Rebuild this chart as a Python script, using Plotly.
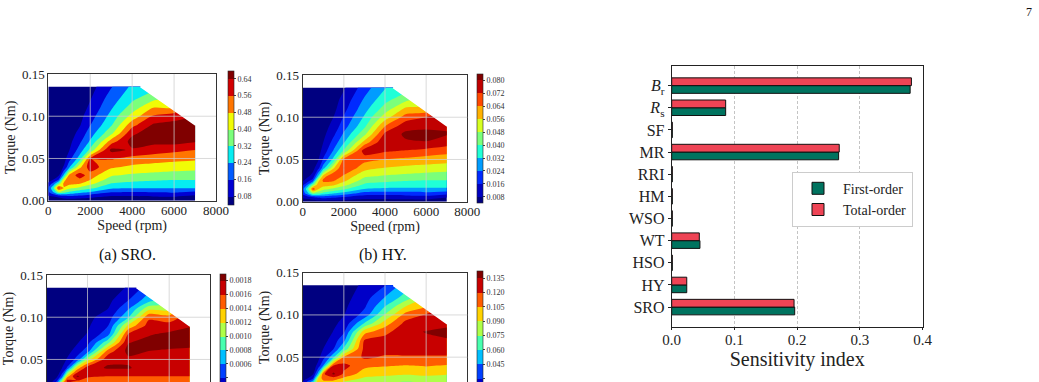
import plotly.graph_objects as go

W, H = 1039, 382


def fx(px):
    return px / W


def fy(py):
    return 1 - py / H


SERIF = "Liberation Serif, Times New Roman, serif"

# ---------------- contour data (speed in rpm, torque in Nm) ----------------
speed = [0, 250, 500, 750, 1000, 1500, 2000, 3000, 4000, 5000, 6000, 7000]
torque = [0, 0.005, 0.01, 0.015, 0.02, 0.025, 0.03, 0.04, 0.05, 0.06, 0.07,
          0.08, 0.09, 0.10, 0.11, 0.12, 0.135]

# torque-speed envelope (region above it is blank)
env_speed = [0, 4400, 7000]
env_torque = [0.135, 0.135, 0.09]

speed_ticks = [0, 2000, 4000, 6000, 8000]
torque_ticks = [0, 0.05, 0.10, 0.15]

# (a) SRO sensitivity map, rows follow `torque`, columns follow `speed`
sro_map = [
    [0.016, 0.016, 0.024, 0.024, 0.024, 0.024, 0.024, 0.024, 0.024, 0.024, 0.024, 0.024],
    [0.064, 0.080, 0.096, 0.128, 0.144, 0.128, 0.104, 0.072, 0.072, 0.080, 0.084, 0.056],
    [0.144, 0.240, 0.376, 0.344, 0.304, 0.264, 0.232, 0.162, 0.156, 0.160, 0.168, 0.144],
    [0.160, 0.320, 0.584, 0.472, 0.420, 0.380, 0.340, 0.254, 0.244, 0.244, 0.244, 0.244],
    [0.096, 0.200, 0.360, 0.504, 0.500, 0.480, 0.420, 0.314, 0.296, 0.288, 0.284, 0.284],
    [0.048, 0.080, 0.160, 0.440, 0.552, 0.544, 0.484, 0.362, 0.344, 0.332, 0.324, 0.324],
    [0.024, 0.048, 0.072, 0.264, 0.504, 0.600, 0.520, 0.409, 0.386, 0.376, 0.364, 0.360],
    [0.016, 0.024, 0.040, 0.088, 0.224, 0.456, 0.608, 0.494, 0.464, 0.448, 0.440, 0.428],
    [0.016, 0.016, 0.024, 0.048, 0.128, 0.280, 0.560, 0.570, 0.534, 0.520, 0.504, 0.496],
    [0.016, 0.016, 0.016, 0.032, 0.076, 0.196, 0.340, 0.662, 0.630, 0.600, 0.580, 0.560],
    [0.016, 0.016, 0.016, 0.024, 0.056, 0.144, 0.252, 0.520, 0.672, 0.664, 0.672, 0.648],
    [0.016, 0.016, 0.016, 0.016, 0.040, 0.104, 0.200, 0.379, 0.622, 0.688, 0.688, 0.680],
    [0.016, 0.016, 0.016, 0.016, 0.032, 0.072, 0.156, 0.308, 0.530, 0.648, 0.664, 0.664],
    [0.016, 0.016, 0.016, 0.016, 0.024, 0.056, 0.124, 0.268, 0.430, 0.568, 0.608, 0.640],
    [0.016, 0.016, 0.016, 0.016, 0.024, 0.040, 0.096, 0.230, 0.357, 0.480, 0.480, 0.600],
    [0.016, 0.016, 0.016, 0.016, 0.016, 0.032, 0.076, 0.200, 0.306, 0.384, 0.440, 0.560],
    [0.016, 0.016, 0.016, 0.016, 0.016, 0.024, 0.048, 0.154, 0.256, 0.288, 0.400, 0.520],
]

# (b) HY sensitivity map
hy_map = [
    [0.0023, 0.0023, 0.0035, 0.0035, 0.0035, 0.0035, 0.0035, 0.0035, 0.0035, 0.0035, 0.0035, 0.0035],
    [0.0093, 0.0116, 0.0134, 0.0171, 0.0190, 0.0171, 0.0144, 0.0104, 0.0104, 0.0116, 0.0121, 0.0081],
    [0.0190, 0.0300, 0.0456, 0.0420, 0.0374, 0.0328, 0.0291, 0.0210, 0.0203, 0.0208, 0.0217, 0.0190],
    [0.0208, 0.0392, 0.0696, 0.0567, 0.0507, 0.0461, 0.0415, 0.0316, 0.0305, 0.0305, 0.0305, 0.0305],
    [0.0134, 0.0254, 0.0438, 0.0604, 0.0599, 0.0576, 0.0507, 0.0385, 0.0364, 0.0355, 0.0351, 0.0351],
    [0.0070, 0.0116, 0.0208, 0.0530, 0.0659, 0.0650, 0.0581, 0.0440, 0.0420, 0.0406, 0.0397, 0.0397],
    [0.0035, 0.0070, 0.0104, 0.0328, 0.0604, 0.0714, 0.0622, 0.0494, 0.0468, 0.0456, 0.0443, 0.0438],
    [0.0023, 0.0035, 0.0058, 0.0125, 0.0282, 0.0548, 0.0723, 0.0592, 0.0558, 0.0539, 0.0530, 0.0516],
    [0.0023, 0.0023, 0.0035, 0.0070, 0.0171, 0.0346, 0.0668, 0.0668, 0.0638, 0.0622, 0.0604, 0.0594],
    [0.0023, 0.0023, 0.0023, 0.0046, 0.0110, 0.0249, 0.0415, 0.0765, 0.0730, 0.0714, 0.0691, 0.0668],
    [0.0023, 0.0023, 0.0023, 0.0035, 0.0081, 0.0190, 0.0314, 0.0594, 0.0797, 0.0788, 0.0797, 0.0760],
    [0.0023, 0.0023, 0.0023, 0.0023, 0.0058, 0.0144, 0.0254, 0.0460, 0.0739, 0.0815, 0.0815, 0.0806],
    [0.0023, 0.0023, 0.0023, 0.0023, 0.0046, 0.0104, 0.0203, 0.0378, 0.0634, 0.0769, 0.0788, 0.0788],
    [0.0023, 0.0023, 0.0023, 0.0023, 0.0035, 0.0081, 0.0167, 0.0332, 0.0519, 0.0677, 0.0723, 0.0760],
    [0.0023, 0.0023, 0.0023, 0.0023, 0.0035, 0.0058, 0.0134, 0.0289, 0.0435, 0.0576, 0.0576, 0.0714],
    [0.0023, 0.0023, 0.0023, 0.0023, 0.0023, 0.0046, 0.0110, 0.0254, 0.0376, 0.0466, 0.0530, 0.0668],
    [0.0023, 0.0023, 0.0023, 0.0023, 0.0023, 0.0035, 0.0070, 0.0201, 0.0318, 0.0355, 0.0484, 0.0622],
]

# (c) third map (lower left)
map_c = [
    [0.00006, 0.00006, 0.00008, 0.0001, 0.0001, 0.0001, 0.0001, 0.0001, 0.0001, 0.0001, 0.0001, 0.0001],
    [0.00024, 0.0004, 0.0005, 0.00056, 0.00056, 0.00056, 0.00056, 0.00056, 0.00056, 0.00056, 0.00056, 0.00056],
    [0.0004, 0.0008, 0.0011, 0.00108, 0.00106, 0.00104, 0.00104, 0.00104, 0.00104, 0.00104, 0.00104, 0.00104],
    [0.0003, 0.0007, 0.0017, 0.0014, 0.00132, 0.0013, 0.00128, 0.00128, 0.00128, 0.00128, 0.00128, 0.00128],
    [0.00012, 0.0003, 0.0007, 0.00144, 0.0015, 0.00144, 0.0014, 0.0014, 0.0014, 0.0014, 0.0014, 0.0014],
    [0.00006, 0.00012, 0.00036, 0.001, 0.00166, 0.0016, 0.0015, 0.0015, 0.0015, 0.0015, 0.0015, 0.0015],
    [0.00006, 0.00006, 0.00016, 0.0005, 0.0013, 0.00184, 0.00164, 0.0016, 0.0016, 0.0016, 0.0016, 0.0016],
    [0.00006, 0.00006, 0.00006, 0.0002, 0.00042, 0.0013, 0.00172, 0.00182, 0.00182, 0.0017, 0.00168, 0.00168],
    [0.00006, 0.00006, 0.00006, 0.0001, 0.00022, 0.00048, 0.0011, 0.00176, 0.00176, 0.00172, 0.00172, 0.00172],
    [0.00006, 0.00006, 0.00006, 0.00006, 0.00012, 0.0003, 0.0005, 0.00148, 0.00186, 0.0018, 0.00178, 0.00176],
    [0.00006, 0.00006, 0.00006, 0.00006, 0.00008, 0.00018, 0.00034, 0.00094, 0.00179, 0.00186, 0.00186, 0.00186],
    [0.00006, 0.00006, 0.00006, 0.00006, 0.00008, 0.00014, 0.00021, 0.00052, 0.00162, 0.00178, 0.00184, 0.00188],
    [0.00006, 0.00006, 0.00006, 0.00006, 0.00008, 0.00012, 0.00017, 0.00039, 0.00125, 0.00168, 0.00168, 0.00178],
    [0.00006, 0.00006, 0.00006, 0.00006, 0.00008, 0.0001, 0.00014, 0.0003, 0.00078, 0.00156, 0.00148, 0.00172],
    [0.00006, 0.00006, 0.00006, 0.00006, 0.00008, 0.00008, 0.00012, 0.0002, 0.00058, 0.00114, 0.00112, 0.00168],
    [0.00006, 0.00006, 0.00006, 0.00006, 0.00008, 0.00008, 0.0001, 0.00014, 0.0004, 0.00072, 0.0009, 0.00164],
    [0.00006, 0.00006, 0.00006, 0.00006, 0.00008, 0.00008, 0.00008, 0.0001, 0.00022, 0.0005, 0.0006, 0.0016],
]

# (d) fourth map (lower right)
map_d = [
    [0.0045, 0.003, 0.0045, 0.0045, 0.0045, 0.0045, 0.0045, 0.0045, 0.0045, 0.0045, 0.0045, 0.0045],
    [0.012, 0.0165, 0.0225, 0.027, 0.027, 0.027, 0.024, 0.0225, 0.0225, 0.0225, 0.0225, 0.0225],
    [0.027, 0.048, 0.072, 0.06, 0.057, 0.0555, 0.051, 0.0465, 0.045, 0.045, 0.045, 0.045],
    [0.03, 0.06, 0.1275, 0.09, 0.0795, 0.078, 0.072, 0.0645, 0.063, 0.0615, 0.0615, 0.0623],
    [0.018, 0.0375, 0.06, 0.102, 0.0975, 0.096, 0.087, 0.0773, 0.075, 0.0735, 0.0743, 0.0743],
    [0.009, 0.015, 0.027, 0.09, 0.1125, 0.114, 0.102, 0.0878, 0.0855, 0.0825, 0.0851, 0.0825],
    [0.0045, 0.009, 0.0135, 0.0525, 0.117, 0.138, 0.117, 0.096, 0.0938, 0.0915, 0.0936, 0.0914],
    [0.0045, 0.0045, 0.0075, 0.0195, 0.045, 0.1215, 0.1245, 0.1095, 0.1065, 0.1046, 0.1062, 0.1038],
    [0.0045, 0.0045, 0.0045, 0.0105, 0.024, 0.057, 0.1065, 0.1223, 0.1185, 0.1185, 0.1185, 0.1185],
    [0.0045, 0.0045, 0.0045, 0.0045, 0.015, 0.0293, 0.063, 0.1245, 0.1245, 0.126, 0.126, 0.126],
    [0.0045, 0.0045, 0.0045, 0.0045, 0.009, 0.0225, 0.0405, 0.1208, 0.126, 0.1305, 0.132, 0.1335],
    [0.0045, 0.0045, 0.0045, 0.0045, 0.0053, 0.0158, 0.0278, 0.099, 0.1155, 0.1305, 0.1358, 0.1395],
    [0.0045, 0.0045, 0.0045, 0.0045, 0.0053, 0.012, 0.0195, 0.0615, 0.0975, 0.1245, 0.1275, 0.1305],
    [0.0045, 0.0045, 0.0045, 0.0045, 0.0053, 0.009, 0.0143, 0.036, 0.0765, 0.111, 0.1215, 0.129],
    [0.0045, 0.0045, 0.0045, 0.0045, 0.0053, 0.0075, 0.012, 0.0278, 0.06, 0.09, 0.105, 0.1275],
    [0.0045, 0.0045, 0.0045, 0.0045, 0.0053, 0.0068, 0.0098, 0.0233, 0.0465, 0.0675, 0.093, 0.126],
    [0.0045, 0.0045, 0.0045, 0.0045, 0.0053, 0.006, 0.0075, 0.018, 0.0293, 0.0525, 0.075, 0.1245],
]

# ---------------- Sobol indices ----------------
params = ["SRO", "HY", "HSO", "WT", "WSO", "HM", "RRI", "MR", "SF",
          "<i>R</i><sub>s</sub>", "<i>B</i><sub>r</sub>"]
first_order = [0.196, 0.024, 0.001, 0.045, 0.001, 0.001, 0.001, 0.266, 0.001, 0.086, 0.380]
total_order = [0.195, 0.024, 0.001, 0.044, 0.001, 0.001, 0.001, 0.267, 0.001, 0.086, 0.382]
sens_ticks = [0.0, 0.1, 0.2, 0.3, 0.4]

# ---------------- colours ----------------
JET7 = ["#000080", "#0000d2", "#005bff", "#06edf1", "#7bff7b",
        "#f1fc06", "#ff7500", "#d20000", "#800000"]
JET9 = ["#000080", "#0000c0", "#002aff", "#009cff", "#20ffd7", "#7bff7b",
        "#d7ff20", "#ffb100", "#ff4800", "#c00000", "#800000"]
JET8 = ["#000080", "#0000c8", "#0040ff", "#00bfff", "#48ffaf", "#afff48",
        "#ffd200", "#ff5c00", "#c80000", "#800000"]
GREEN = "#00735f"
RED = "#ee4455"

fig = go.Figure()

panels = [
    dict(z=sro_map, xa="x", ya="y", start=0.08, end=0.64, size=0.08, fmt=".2f",
         colors=JET7, px_x=(48.3, 216.0), px_y=(74.0, 200.7), yr=[0, 0.15],
         cb_x=227.7, cb_y=(79.0, 196.0), full=True),
    dict(z=hy_map, xa="x2", ya="y2", start=0.008, end=0.080, size=0.008, fmt=".3f",
         colors=JET9, px_x=(302.7, 467.3), px_y=(75.0, 201.7), yr=[0, 0.15],
         cb_x=477.3, cb_y=(80.7, 196.7), full=True),
    dict(z=map_c, xa="x3", ya="y3", start=0.0002, end=0.0018, size=0.0002, fmt=".4f",
         colors=JET8, px_x=(46.7, 210.0), px_y=(275.0, H), yr=[0.0233, 0.15],
         cb_x=220.0, cb_y=(280.7, 391.6), full=False),
    dict(z=map_d, xa="x4", ya="y4", start=0.015, end=0.135, size=0.015, fmt=".3f",
         colors=JET8, px_x=(302.7, 467.3), px_y=(272.7, H), yr=[0.0206, 0.15],
         cb_x=477.3, cb_y=(278.3, 392.6), full=False),
]

layout_axes = {}
shapes = []
grid_col = "rgba(205,205,205,0.75)"
for p in panels:
    n = len(p["colors"])
    cscale = [[i / (n - 1), c] for i, c in enumerate(p["colors"])]
    nb = round((p["end"] - p["start"]) / p["size"])
    tick_span = p["cb_y"][1] - p["cb_y"][0]
    cb_len = tick_span * (nb + 1) / nb  # plotly adds half a band at each end
    cb_mid = (p["cb_y"][1] + p["cb_y"][0]) / 2
    fig.add_trace(go.Contour(
        x=speed, y=torque, z=p["z"], xaxis=p["xa"], yaxis=p["ya"],
        colorscale=cscale, autocontour=False, connectgaps=True,
        contours=dict(start=p["start"], end=p["end"], size=p["size"],
                      coloring="fill", showlines=False),
        line=dict(width=0, smoothing=0.7),
        hoverinfo="skip",
        colorbar=dict(
            x=fx(p["cb_x"]), xanchor="left", xpad=0,
            y=fy(cb_mid), yanchor="middle", ypad=0,
            len=cb_len, lenmode="pixels", thickness=6,
            tick0=p["start"], dtick=p["size"], tickformat=p["fmt"],
            ticks="outside", ticklen=2, tickcolor="#444",
            tickfont=dict(family=SERIF, size=8, color="#333"),
            outlinewidth=0.6, outlinecolor="#222",
        ),
    ))
    # blank out the region above the torque-speed envelope
    fig.add_trace(go.Scatter(
        x=[env_speed[1], env_speed[2], speed_ticks[-1], speed_ticks[-1], env_speed[1]],
        y=[env_torque[1], env_torque[2], env_torque[2], torque_ticks[-1], torque_ticks[-1]],
        fill="toself", fillcolor="white", mode="lines",
        line=dict(color="white", width=1.5),
        xaxis=p["xa"], yaxis=p["ya"], showlegend=False, hoverinfo="skip",
    ))
    xkey = "xaxis" + p["xa"][1:]
    ykey = "yaxis" + p["ya"][1:]
    xa_cfg = dict(
        domain=[fx(p["px_x"][0]), fx(p["px_x"][1])], anchor=p["ya"],
        range=[0, 8000], tickvals=speed_ticks, showgrid=False, zeroline=False,
        showline=True, linecolor="#333", linewidth=1, ticks="",
        tickfont=dict(family=SERIF, size=13, color="#222"),
        layer="above traces",
    )
    if p["full"]:
        xa_cfg.update(mirror=True, ticklabelstandoff=-2,
                      title=dict(text="Speed (rpm)", standoff=1,
                                 font=dict(family=SERIF, size=14, color="#222")))
    else:
        xa_cfg.update(side="top", showticklabels=False, mirror=False)
    ya_cfg = dict(
        domain=[fy(p["px_y"][1]), fy(p["px_y"][0])], anchor=p["xa"],
        range=p["yr"], tickvals=torque_ticks, tickformat=".2f",
        showgrid=False, zeroline=False, showline=True, mirror=True,
        linecolor="#333", linewidth=1, ticks="", layer="above traces",
        tickfont=dict(family=SERIF, size=13, color="#222"),
        title=dict(text="Torque (Nm)", standoff=3,
                   font=dict(family=SERIF, size=14, color="#222")),
    )
    layout_axes[xkey] = xa_cfg
    layout_axes[ykey] = ya_cfg
    # grid lines drawn on top of the filled contours
    for s in speed_ticks[1:-1]:
        shapes.append(dict(type="line", xref=p["xa"], yref=p["ya"] + " domain",
                           x0=s, x1=s, y0=0, y1=1, layer="above",
                           line=dict(color=grid_col, width=1)))
    for t in torque_ticks[1:-1]:
        shapes.append(dict(type="line", xref=p["xa"] + " domain", yref=p["ya"],
                           x0=0, x1=1, y0=t, y1=t, layer="above",
                           line=dict(color=grid_col, width=1)))

# ---------------- bar chart ----------------
pos = list(range(len(params)))
fig.add_trace(go.Bar(
    x=first_order, y=pos, orientation="h", width=0.35, offset=-0.35,
    name="First-order", marker=dict(color=GREEN, line=dict(color="#111", width=1)),
    xaxis="x5", yaxis="y5", hoverinfo="skip",
))
fig.add_trace(go.Bar(
    x=total_order, y=pos, orientation="h", width=0.35, offset=0.0,
    name="Total-order", marker=dict(color=RED, line=dict(color="#111", width=1)),
    xaxis="x5", yaxis="y5", hoverinfo="skip",
))

layout_axes["xaxis5"] = dict(
    domain=[fx(671.7), fx(922.7)], anchor="y5", range=[0, 0.4],
    tickvals=sens_ticks, tickformat=".1f",
    showgrid=True, gridcolor="#c4c4c4", gridwidth=0.8, griddash="3px,2px",
    zeroline=False, showline=True, mirror=True, linecolor="#222", linewidth=1,
    ticks="outside", ticklen=2, tickcolor="#222", ticklabelstandoff=-3,
    tickfont=dict(family=SERIF, size=15, color="#222"),
    title=dict(text="Sensitivity index", standoff=0,
               font=dict(family=SERIF, size=20, color="#222")),
)
layout_axes["yaxis5"] = dict(
    domain=[fy(326.7), fy(66.0)], anchor="x5", range=[-0.885, 10.885],
    tickvals=pos, ticktext=params, showgrid=False, zeroline=False,
    showline=True, mirror=True, linecolor="#222", linewidth=1,
    ticks="outside", ticklen=3, tickcolor="#222",
    tickfont=dict(family=SERIF, size=16, color="#222"),
)

annotations = [
    dict(text="(a) SRO.", x=fx(127), y=fy(255), xref="paper", yref="paper",
         xanchor="center", yanchor="middle",
         showarrow=False, font=dict(family=SERIF, size=16, color="#111")),
    dict(text="(b) HY.", x=fx(383), y=fy(255), xref="paper", yref="paper",
         xanchor="center", yanchor="middle",
         showarrow=False, font=dict(family=SERIF, size=16, color="#111")),
    dict(text="7", x=fx(1029), y=fy(12), xref="paper", yref="paper",
         xanchor="center", yanchor="middle",
         showarrow=False, font=dict(family=SERIF, size=12, color="#111")),
]

fig.update_layout(
    width=W, height=H,
    margin=dict(l=0, r=0, t=0, b=0, pad=0, autoexpand=False),
    paper_bgcolor="white", plot_bgcolor="white",
    barmode="overlay",
    showlegend=True,
    legend=dict(
        x=fx(792), y=fy(171.7), xanchor="left", yanchor="top",
        bgcolor="white", bordercolor="#cccccc", borderwidth=1,
        font=dict(family=SERIF, size=14, color="#222"),
        itemwidth=40,
    ),
    shapes=shapes,
    annotations=annotations,
    **layout_axes,
)

fig.write_html("out.html")
